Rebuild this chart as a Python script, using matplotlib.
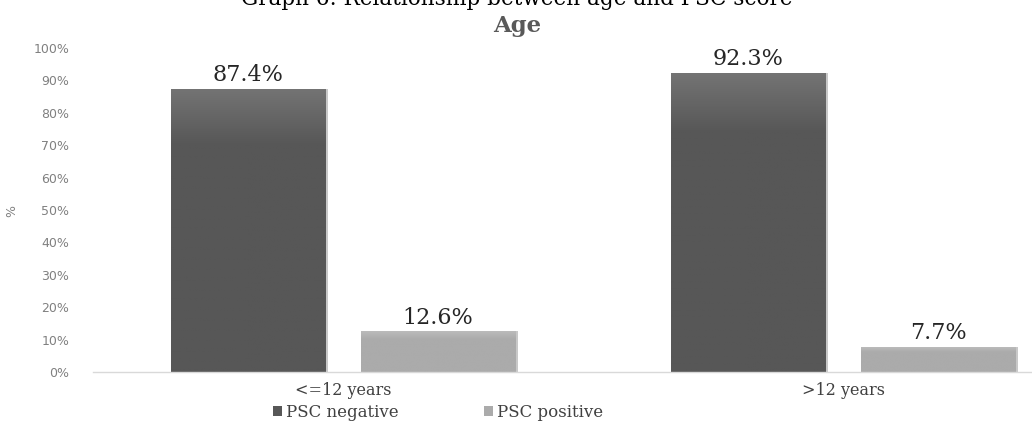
import matplotlib
matplotlib.use("Agg")
import matplotlib.pyplot as plt
import numpy as np
from matplotlib.patches import Rectangle

categories = ["<=12 years", ">12 years"]
series_names = ["PSC negative", "PSC positive"]
psc_negative = [87.4, 92.3]
psc_positive = [12.6, 7.7]
yticks = [0, 10, 20, 30, 40, 50, 60, 70, 80, 90, 100]

serif = "DejaVu Serif"
sans = "DejaVu Sans"

fig = plt.figure(figsize=(10.32, 4.23), dpi=100)
ax = fig.add_axes([93 / 1032, 51 / 423, (1032 - 93) / 1032, (372 - 48) / 423])

x = np.arange(len(categories))
width = 0.31
offset = 0.19

def gradient_bars(xs, heights, top_col, bot_col, label):
    bars = ax.bar(xs, heights, width, color=bot_col, label=label, zorder=2,
                  edgecolor="none")
    grad = np.linspace(0, 1, 256).reshape(-1, 1)
    c1 = np.array(matplotlib.colors.to_rgb(top_col))
    c2 = np.array(matplotlib.colors.to_rgb(bot_col))
    for b in bars:
        x0, y0 = b.get_x(), b.get_y()
        w, h = b.get_width(), b.get_height()
        # soft shadow on the right
        sh = Rectangle((x0 + 0.004, y0), w, h, facecolor="#c8c8c8",
                       edgecolor="none", zorder=1.5)
        ax.add_patch(sh)
        frac = np.clip(grad * 5, 0, 1)  # lighter only near the top
        img = c2 + (c1 - c2) * (1 - frac)
        img = img.reshape(256, 1, 3)
        im = ax.imshow(img, extent=(x0, x0 + w, y0, y0 + h), origin="upper",
                       aspect="auto", zorder=2.5)
        im.set_clip_path(b)
    return bars

b1 = gradient_bars(x - offset, psc_negative, "#747474", "#575757", series_names[0])
b2 = gradient_bars(x + offset, psc_positive, "#bbbbbb", "#ababab", series_names[1])

for xs, vals in ((x - offset, psc_negative), (x + offset, psc_positive)):
    for xi, v in zip(xs, vals):
        ax.text(xi, v + 0.8, f"{v}%", ha="center", va="bottom",
                fontsize=16, family=serif, color="#262626", zorder=3)

ax.set_xlim(-0.5, (1032 - 343) / 500)
ax.set_ylim(0, 100)
ax.set_yticks(yticks)
ax.set_yticklabels([f"{t}%" for t in yticks], family=sans, fontsize=9,
                   color="#808080")
ax.set_xticks(x)
ax.set_xticklabels(categories, family=serif, fontsize=11.5, color="#404040")
ax.tick_params(axis="both", length=0)
ax.tick_params(axis="y", pad=17)
ax.tick_params(axis="x", pad=7)
for s in ("top", "right", "left"):
    ax.spines[s].set_visible(False)
ax.spines["bottom"].set_color("#d9d9d9")
ax.spines["bottom"].set_linewidth(1.0)

fig.text(12 / 1032, 1 - 211 / 423, "%", rotation=90, ha="center", va="center",
         family=sans, fontsize=9, color="#808080")

fig.text(517 / 1032, 1 - 26 / 423, "Age", ha="center", va="center",
         family=serif, fontsize=16.5, fontweight="bold", color="#595959")
fig.text(517 / 1032, 1 + 1 / 423, "Graph 6: Relationship between age and PSC score",
         ha="center", va="center", family=serif, fontsize=15.5, color="black")

leg = fig.legend(handles=[b1, b2], labels=series_names, loc="center",
                 bbox_to_anchor=(438 / 1032, 1 - 412 / 423), ncol=2, frameon=False,
                 prop={"family": serif, "size": 12}, handlelength=0.55,
                 handleheight=0.55, handletextpad=0.25, columnspacing=5.1)
for t in leg.get_texts():
    t.set_color("#404040")

fig.savefig("out.png", dpi=100)
